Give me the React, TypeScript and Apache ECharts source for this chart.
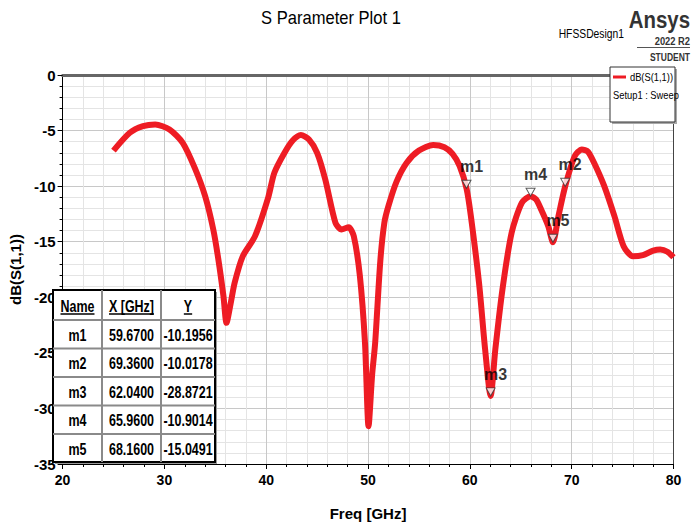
import React, { useEffect, useRef } from "react";
import * as echarts from "echarts";

// ---- data ----
const freqGHz = [
  25.0, 26.6, 27.9, 29.1, 30.5, 31.8, 33.0, 34.0, 34.8, 35.3, 35.8, 36.1, 36.5, 36.9, 37.7, 38.9,
  40.2, 40.8, 41.8, 42.6, 43.4, 44.2, 45.0, 45.8, 46.8, 47.4, 48.1, 48.6, 49.2, 49.7, 50.05, 50.4,
  50.7, 51.2, 51.6, 52.0, 52.8, 53.8, 55.0, 56.4, 57.5, 58.3, 59.0, 59.67, 60.1, 60.9, 61.5, 62.04,
  62.5, 63.2, 64.1, 65.1, 65.96, 66.5, 67.0, 67.7, 68.16, 68.7, 69.36, 70.3, 71.0, 71.6, 72.2, 73.2,
  74.2, 75.1, 76.0, 77.0, 78.0, 78.7, 79.4, 80.0,
];
const dbS11 = [
  -6.8, -5.2, -4.6, -4.45, -4.9, -6.1, -8.4, -10.9, -13.9, -16.6, -19.9, -22.3, -20.6, -18.7, -16.3, -14.5,
  -11.0, -8.8, -7.0, -5.9, -5.4, -5.8, -7.0, -9.4, -13.3, -13.9, -13.7, -14.5, -18.1, -24.1, -31.6, -27.0,
  -24.1, -16.8, -13.3, -11.8, -9.6, -7.9, -6.8, -6.3, -6.5, -7.1, -8.2, -10.1956, -12.7, -18.7, -24.7, -28.8721,
  -24.7, -19.3, -14.2, -11.5, -10.9014, -11.2, -12.1, -13.6, -15.0491, -12.7, -10.0178, -7.3, -6.7, -6.9, -7.9, -10.0,
  -12.7, -15.4, -16.3, -16.2, -15.8, -15.7, -15.9, -16.4,
];
const markerNames = ["m1", "m2", "m3", "m4", "m5"];
const markerX = [59.67, 69.36, 62.04, 65.96, 68.16];
const markerY = [-10.1956, -10.0178, -28.8721, -10.9014, -15.0491];
const tableHeaders = ["Name", "X [GHz]", "Y"];
const titleText = "S Parameter Plot 1";
const xName = "Freq [GHz]";
const yName = "dB(S(1,1))";
const legendName = "dB(S(1,1))";
const legendSub = "Setup1 : Sweep";

const FONT = '"Liberation Sans", Arial, sans-serif';

function measure(text: string, font: string): number {
  const c = document.createElement("canvas");
  const ctx = c.getContext("2d");
  if (!ctx) return text.length * 7;
  ctx.font = font;
  return ctx.measureText(text).width;
}

export default function App() {
  const ref = useRef<HTMLDivElement>(null);
  useEffect(() => {
    if (!ref.current) return;
    const chart = echarts.init(ref.current, undefined, { renderer: "svg" });

    const curve = freqGHz.map((f, i) => [f, dbS11[i]]);
    const markers = markerNames.map((n, i) => ({ name: n, value: [markerX[i], markerY[i]] }));

    // table
    const colX = [53, 102, 161, 215];
    const rowY = [290, 320, 348.5, 377, 405.5, 434, 462];
    const tFont = `bold 16px ${FONT}`;
    const tScale = 0.78;
    const table: any[] = [];
    table.push({ type: "rect", shape: { x: colX[0] + 2, y: rowY[0] + 2, width: colX[3] - colX[0], height: rowY[6] - rowY[0] }, style: { fill: "#9a9a9a" }, z: 100 });
    table.push({ type: "rect", shape: { x: colX[0], y: rowY[0], width: colX[3] - colX[0], height: rowY[6] - rowY[0] }, style: { fill: "#fff", stroke: "#000", lineWidth: 2 }, z: 101 });
    for (let r = 1; r < 6; r++) {
      table.push({ type: "line", shape: { x1: colX[0], y1: rowY[r], x2: colX[3], y2: rowY[r] }, style: { stroke: "#8a8a8a", lineWidth: 2 }, z: 102 });
    }
    for (let c = 1; c < 3; c++) {
      table.push({ type: "line", shape: { x1: colX[c], y1: rowY[0], x2: colX[c], y2: rowY[6] }, style: { stroke: "#8a8a8a", lineWidth: 2 }, z: 102 });
    }
    const rows: string[][] = [tableHeaders];
    markerNames.forEach((n, i) => rows.push([n, markerX[i].toFixed(4), markerY[i].toFixed(4)]));
    rows.forEach((row, r) => {
      row.forEach((txt, c) => {
        const cx = (colX[c] + colX[c + 1]) / 2;
        const cy = (rowY[r] + rowY[r + 1]) / 2 + 1;
        table.push({ type: "text", x: cx, y: cy, scaleX: tScale, style: { text: txt, font: tFont, fill: "#000", align: "center", verticalAlign: "middle" }, z: 103 });
        if (r === 0) {
          const w = measure(txt, tFont) * tScale;
          table.push({ type: "line", shape: { x1: cx - w / 2, y1: cy + 8, x2: cx + w / 2, y2: cy + 8 }, style: { stroke: "#000", lineWidth: 1.5 }, z: 103 });
        }
      });
    });

    const option: any = {
      animation: false,
      backgroundColor: "#fff",
      grid: { left: 55.5, right: 20.5, top: 75, bottom: 61, containLabel: false },
      xAxis: [
        {
          type: "value", min: 20, max: 80, interval: 10, position: "bottom",
          axisLine: { show: true, onZero: false, lineStyle: { color: "#000", width: 1 } },
          axisTick: { show: true, length: 5, lineStyle: { color: "#000" } },
          minorTick: { show: true, splitNumber: 5, length: 3, lineStyle: { color: "#000" } },
          splitLine: { show: true, lineStyle: { color: "#c8c8c8", width: 1 } },
          minorSplitLine: { show: true, lineStyle: { color: "#e4e4e4", width: 1 } },
          axisLabel: { color: "#000", fontWeight: "bold", fontSize: 14, fontFamily: FONT, margin: 9 },
          name: xName, nameLocation: "middle", nameGap: 42,
          nameTextStyle: { color: "#000", fontWeight: "bold", fontSize: 15, fontFamily: FONT },
        },
        {
          type: "value", min: 20, max: 80, position: "top",
          axisLine: { show: true, onZero: false, lineStyle: { color: "#666", width: 3 } },
          axisTick: { show: false }, axisLabel: { show: false }, splitLine: { show: false },
        },
      ],
      yAxis: [
        {
          type: "value", min: -35, max: 0, interval: 5,
          axisLine: { show: true, onZero: false, lineStyle: { color: "#000", width: 1 } },
          axisTick: { show: true, length: 5, lineStyle: { color: "#000" } },
          minorTick: { show: true, splitNumber: 5, length: 3, lineStyle: { color: "#000" } },
          splitLine: { show: true, lineStyle: { color: "#c8c8c8", width: 1 } },
          minorSplitLine: { show: true, lineStyle: { color: "#e4e4e4", width: 1 } },
          axisLabel: { color: "#000", fontWeight: "bold", fontSize: 15, fontFamily: FONT, margin: 7 },
          name: yName, nameLocation: "middle", nameGap: 28, nameRotate: 90,
          nameTextStyle: { color: "#000", fontWeight: "bold", fontSize: 15, fontFamily: FONT },
        },
        {
          type: "value", min: -35, max: 0, position: "right",
          axisLine: { show: true, onZero: false, lineStyle: { color: "#444", width: 1 } },
          axisTick: { show: false }, axisLabel: { show: false }, splitLine: { show: false },
        },
      ],
      series: [
        {
          type: "line", name: legendName, data: curve, xAxisIndex: 0, yAxisIndex: 0,
          showSymbol: false, symbol: "none", smooth: 0.25,
          lineStyle: { color: "#ee1c24", width: 6 }, z: 2,
        },
        {
          type: "scatter", data: markers, xAxisIndex: 0, yAxisIndex: 0,
          symbol: "triangle", symbolRotate: 180, symbolSize: [9, 8], symbolOffset: [0, -4],
          itemStyle: { color: "#fff", borderColor: "#333", borderWidth: 1 },
          label: {
            show: true, position: "top", distance: 1, offset: [5, -4], formatter: "{b}",
            color: "#000", fontWeight: "bold", fontSize: 16, fontFamily: FONT,
          },
          z: 5,
        },
      ],
      graphic: [
        { type: "text", x: 331, y: 18, scaleX: 0.92, style: { text: titleText, font: `18px ${FONT}`, fill: "#000", align: "center", verticalAlign: "middle" } },
        { type: "text", x: 624, y: 34, scaleX: 0.86, style: { text: "HFSSDesign1", font: `12px ${FONT}`, fill: "#000", align: "right", verticalAlign: "middle" } },
        { type: "text", x: 690, y: 20, scaleX: 0.85, style: { text: "Ansys", font: `bold 24px ${FONT}`, fill: "#333", align: "right", verticalAlign: "middle" } },
        { type: "text", x: 690, y: 41, scaleX: 0.85, style: { text: "2022 R2", font: `bold 11px ${FONT}`, fill: "#333", align: "right", verticalAlign: "middle" } },
        { type: "line", shape: { x1: 637, y1: 47.5, x2: 690, y2: 47.5 }, style: { stroke: "#555", lineWidth: 1 } },
        { type: "text", x: 690, y: 58, scaleX: 0.85, style: { text: "STUDENT", font: `bold 10px ${FONT}`, fill: "#333", align: "right", verticalAlign: "middle" } },
        // legend box
        { type: "rect", shape: { x: 612, y: 69, width: 65, height: 55 }, style: { fill: "#a8a8a8" }, z: 100 },
        { type: "rect", shape: { x: 610, y: 67, width: 65, height: 55 }, style: { fill: "#fff", stroke: "#333", lineWidth: 1 }, z: 101 },
        { type: "line", shape: { x1: 613, y1: 77, x2: 626, y2: 77 }, style: { stroke: "#ee1c24", lineWidth: 3 }, z: 102 },
        { type: "text", x: 673, y: 77, scaleX: 0.85, style: { text: legendName, font: `11px ${FONT}`, fill: "#000", align: "right", verticalAlign: "middle" }, z: 102 },
        { type: "text", x: 613, y: 95, scaleX: 0.85, style: { text: legendSub, font: `11px ${FONT}`, fill: "#000", align: "left", verticalAlign: "middle" }, z: 102 },
        ...table,
      ],
    };
    chart.setOption(option);
    return () => chart.dispose();
  }, []);
  return <div ref={ref} style={{ width: 694, height: 526, position: "absolute", left: 0, top: 0 }} />;
}
